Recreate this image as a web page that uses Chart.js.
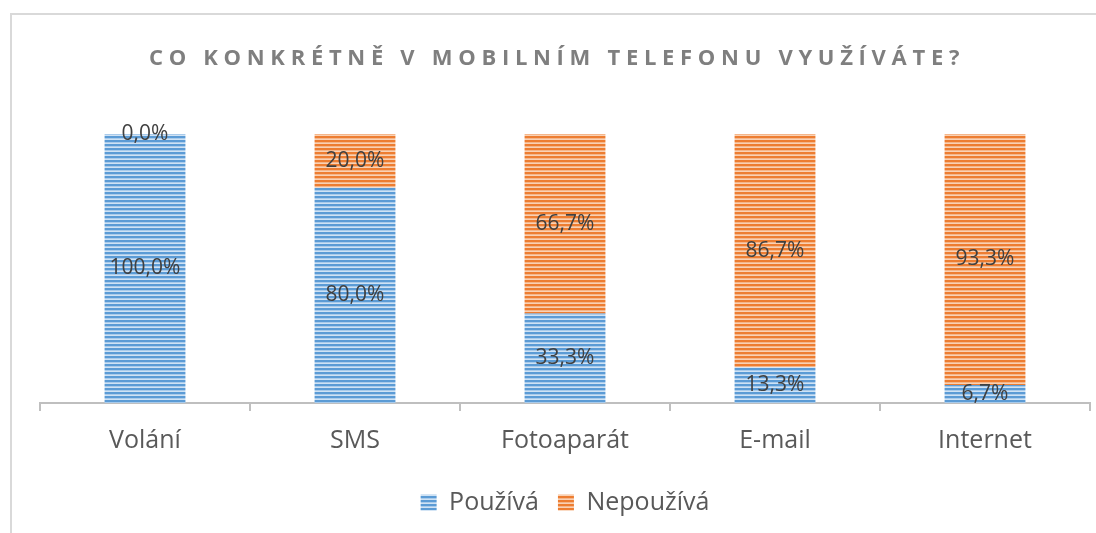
<!DOCTYPE html>
<html>
<head>
<meta charset="utf-8">
<script src="https://cdn.jsdelivr.net/npm/chart.js@4"></script>
<style>
    body { margin: 0; background: #fff; }
    #wrap { position: relative; width: 1096px; height: 533px; }
    #frame { position: absolute; left: 10px; top: 13px; right: -2px; bottom: -2px;
             border-top: 2px solid #d9d9d9; border-left: 2px solid #d9d9d9; }
    canvas { position: absolute; left: 0; top: 0; }
</style>
</head>
<body>
<div id="wrap">
    <div id="frame"></div>
    <canvas id="chart" width="1096" height="533"></canvas>
</div>
<script>
const chartTitle = "CO KONKRÉTNĚ V MOBILNÍM TELEFONU VYUŽÍVÁTE?";
const categories = ["Volání", "SMS", "Fotoaparát", "E-mail", "Internet"];
const seriesNames = ["Používá", "Nepoužívá"];
const pouziva = [100.0, 80.0, 33.3, 13.3, 6.7];
const nepouziva = [0.0, 20.0, 66.7, 86.7, 93.3];

// horizontal stripe fill like the office pattern
const makeStripes = (rows) => {
    const c = document.createElement("canvas");
    c.width = 4;
    c.height = rows.length;
    const g = c.getContext("2d");
    rows.forEach((col, i) => {
        g.fillStyle = col;
        g.fillRect(0, i, 4, 1);
    });
    return g.createPattern(c, "repeat");
};

const ctx = document.getElementById("chart").getContext("2d");
const bluePattern = makeStripes(["#5b9bd5", "#5b9bd5", "#a9cbeb", "#cfe2f4"]);
const orangePattern = makeStripes(["#ed7d31", "#ed7d31", "#f5b68a", "#f9d1b4"]);

const fmt = (v) => v.toFixed(1).replace(".", ",") + "%";

// value labels in the middle of each segment
const valueLabels = {
    id: "valueLabels",
    afterDatasetsDraw(chart) {
        const c = chart.ctx;
        c.save();
        c.font = "21px 'Open Sans'";
        c.fillStyle = "#404040";
        c.textAlign = "center";
        c.textBaseline = "middle";
        chart.data.datasets.forEach((ds, di) => {
            chart.getDatasetMeta(di).data.forEach((bar, i) => {
                const y = (bar.y + bar.base) / 2;
                c.fillText(fmt(ds.data[i]), bar.x, y);
            });
        });
        c.restore();
    }
};

// spaced bold title
const spacedTitle = {
    id: "spacedTitle",
    afterDraw(chart) {
        const c = chart.ctx;
        c.save();
        c.font = "bold 22px 'Open Sans'";
        c.letterSpacing = "5.7px";
        c.fillStyle = "#7f7f7f";
        c.textAlign = "center";
        c.textBaseline = "middle";
        c.fillText(chartTitle, 557, 59);
        c.restore();
    }
};

new Chart(ctx, {
    type: "bar",
    data: {
        labels: categories,
        datasets: [
            { label: seriesNames[0], data: pouziva, backgroundColor: bluePattern, borderWidth: 0 },
            { label: seriesNames[1], data: nepouziva, backgroundColor: orangePattern, borderWidth: 0 }
        ]
    },
    options: {
        responsive: false,
        animation: false,
        events: [],
        categoryPercentage: 0.385,
        barPercentage: 1,
        layout: { padding: { left: 40, right: 6, top: 134, bottom: 8 } },
        plugins: {
            title: { display: false },
            tooltip: { enabled: false },
            legend: {
                position: "bottom",
                labels: {
                    boxWidth: 16,
                    boxHeight: 16,
                    padding: 19,
                    color: "#595959",
                    font: { family: "'Open Sans'", size: 25 }
                }
            }
        },
        scales: {
            x: {
                stacked: true,
                grid: { drawOnChartArea: false, drawTicks: true, tickLength: 8, color: "#bfbfbf", lineWidth: 2 },
                border: { color: "#bfbfbf", width: 2 },
                ticks: { color: "#595959", padding: 15, font: { family: "'Open Sans'", size: 25 } }
            },
            y: {
                stacked: true,
                display: false,
                min: 0,
                max: 100
            }
        }
    },
    plugins: [valueLabels, spacedTitle]
});
</script>
</body>
</html>
